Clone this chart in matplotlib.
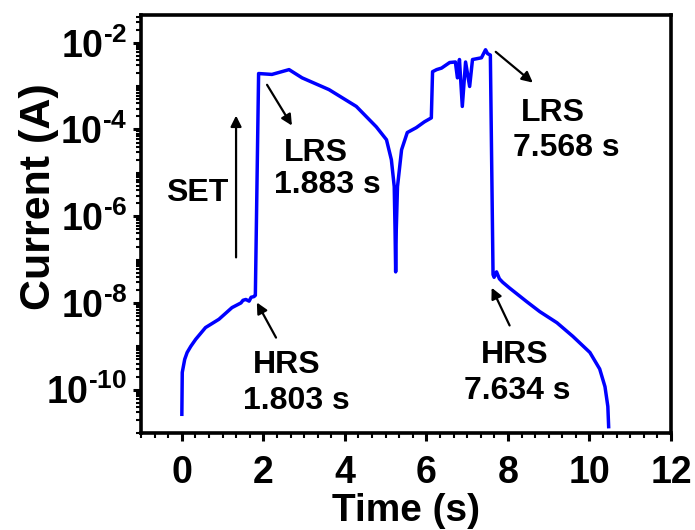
import numpy as np
import matplotlib
matplotlib.use("Agg")
import matplotlib.pyplot as plt
from matplotlib.ticker import FixedLocator, FixedFormatter, LogLocator, NullFormatter, AutoMinorLocator

plt.rcParams['font.family'] = ['Liberation Sans', 'DejaVu Sans']
plt.rcParams['font.weight'] = 'bold'
plt.rcParams['mathtext.fontset'] = 'custom'
plt.rcParams['mathtext.rm'] = 'Liberation Sans:bold'
plt.rcParams['mathtext.bf'] = 'Liberation Sans:bold'
plt.rcParams['mathtext.default'] = 'bf'

# time (s) and current (A) of the SET / RESET sweep
time_s = [0.0, 0.01, 0.07, 0.13, 0.22, 0.34, 0.58, 0.91, 1.23, 1.45, 1.50, 1.57, 1.65,
          1.70, 1.77, 1.803, 1.883, 2.21, 2.63, 2.95, 3.61, 4.28, 4.77, 5.02, 5.14, 5.21,
          5.23, 5.245, 5.26, 5.29, 5.39, 5.53, 5.75, 5.95, 6.12, 6.15, 6.25, 6.37, 6.57,
          6.71, 6.76, 6.81, 6.88, 6.96, 7.06, 7.13, 7.35, 7.45, 7.50, 7.568, 7.634, 7.66,
          7.72, 7.79, 7.87, 8.04, 8.46, 8.78, 9.20, 9.59, 10.01, 10.25, 10.38, 10.45, 10.47]
current_a = [2.7e-11, 2.5e-10, 5.0e-10, 7.2e-10, 1.0e-9, 1.45e-9, 2.7e-9, 4.2e-9, 7.8e-9,
             1.0e-8, 1.15e-8, 1.2e-8, 1.1e-8, 1.35e-8, 1.4e-8, 1.5e-8, 1.95e-3, 1.86e-3,
             2.4e-3, 1.55e-3, 8.3e-4, 3.4e-4, 1.15e-4, 5.8e-5, 2.0e-5, 4.8e-6, 4.9e-7,
             5.2e-8, 4.9e-7, 4.8e-6, 3.4e-5, 8.5e-5, 1.1e-4, 1.5e-4, 1.85e-4, 2.15e-3,
             2.4e-3, 2.6e-3, 3.5e-3, 3.6e-3, 1.55e-3, 4.1e-3, 3.4e-4, 3.6e-3, 9.8e-4,
             4.1e-3, 4.5e-3, 6.9e-3, 5.6e-3, 5.2e-3, 4.5e-8, 3.9e-8, 5.2e-8, 3.6e-8,
             3.0e-8, 2.2e-8, 1.07e-8, 6.3e-9, 3.5e-9, 1.7e-9, 7.2e-10, 3.0e-10, 1.17e-10,
             4.1e-11, 1.4e-11]

x_ticks = [0, 2, 4, 6, 8, 10, 12]
y_ticks = [1e-10, 1e-8, 1e-6, 1e-4, 1e-2]
y_tick_labels = [r'$10^{\text{-10}}$', r'$10^{\text{-8}}$', r'$10^{\text{-6}}$',
                 r'$10^{\text{-4}}$', r'$10^{\text{-2}}$']

fig = plt.figure(figsize=(6.95, 5.3), dpi=100)
ax = fig.add_axes([0.203, 0.183, 0.7625, 0.789])

ax.plot(time_s, current_a, color='#0000ff', lw=2.5)
ax.set_yscale('log')
ax.set_xlim(-1, 12)
ax.set_ylim(1e-11, 0.044)

ax.xaxis.set_major_locator(FixedLocator(x_ticks))
ax.xaxis.set_minor_locator(AutoMinorLocator(6))
ax.yaxis.set_major_locator(FixedLocator(y_ticks))
ax.yaxis.set_major_formatter(FixedFormatter(y_tick_labels))
ax.yaxis.set_minor_locator(LogLocator(base=10, subs=np.arange(1, 10), numticks=30))
ax.yaxis.set_minor_formatter(NullFormatter())

for side in ax.spines.values():
    side.set_linewidth(2.6)
ax.tick_params(which='major', direction='out', length=6, width=2.2, labelsize=27, pad=4)
ax.tick_params(axis='x', which='major', pad=10)
ax.tick_params(which='minor', direction='out', length=3.5, width=1.5)
for lab in ax.get_xticklabels() + ax.get_yticklabels():
    lab.set_fontweight('bold')

ax.set_xlabel('Time (s)', fontsize=28, fontweight='bold', labelpad=1)
ax.set_ylabel('Current (A)', fontsize=31, fontweight='bold')
ax.yaxis.set_label_coords(-0.155, 0.565)

arrow = dict(arrowstyle='-|>', color='black', lw=1.6, mutation_scale=16,
             shrinkA=0, shrinkB=0)
txt = dict(fontsize=23, fontweight='bold', ha='center', va='baseline')

# SET
ax.annotate('', xy=(1.33, 10**-3.68), xytext=(1.33, 10**-6.95), arrowprops=arrow)
ax.text(0.37, 10**-5.64, 'SET', **txt)

# LRS after SET
ax.annotate('', xy=(2.70, 10**-3.91), xytext=(2.09, 10**-2.97), arrowprops=arrow)
ax.text(3.29, 10**-4.73, 'LRS', **txt)
ax.text(3.57, 10**-5.47, '1.883 s', **txt)

# HRS before SET
ax.annotate('', xy=(1.84, 10**-7.99), xytext=(2.31, 10**-8.80), arrowprops=arrow)
ax.text(2.58, 10**-9.62, 'HRS', **txt)
ax.text(2.80, 10**-10.44, '1.803 s', **txt)

# LRS before RESET
ax.annotate('', xy=(8.61, 10**-2.92), xytext=(7.70, 10**-2.21), arrowprops=arrow)
ax.text(9.10, 10**-3.81, 'LRS', **txt)
ax.text(9.44, 10**-4.62, '7.568 s', **txt)

# HRS after RESET
ax.annotate('', xy=(7.60, 10**-7.65), xytext=(8.04, 10**-8.52), arrowprops=arrow)
ax.text(8.16, 10**-9.38, 'HRS', **txt)
ax.text(8.24, 10**-10.21, '7.634 s', **txt)

fig.savefig('out.png', dpi=100)
